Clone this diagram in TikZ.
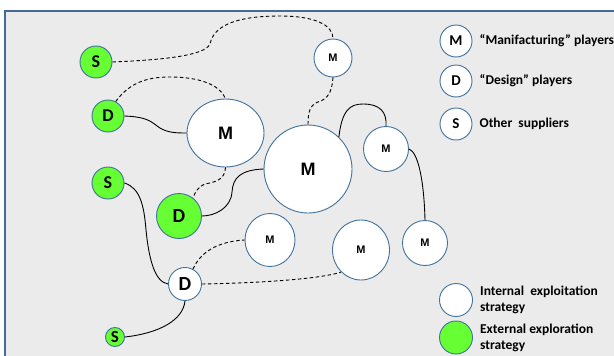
\documentclass[tikz,border=0pt]{standalone}
\usepackage{fontspec}
\setmainfont{Carlito}
\newfontfamily\arialfont{Liberation Sans}
\usepackage{tikz}
\definecolor{nodeblue}{RGB}{65,113,156}
\definecolor{frameblue}{RGB}{70,106,152}
\definecolor{extgreen}{RGB}{102,255,51}
\definecolor{bggray}{RGB}{235,235,235}
\usetikzlibrary{shapes, positioning, calc}

\begin{document}
\begin{tikzpicture}[
    x=1pt, y=-1pt,
    player/.style={circle, draw=nodeblue, line width=0.9pt, fill=white, inner sep=0pt},
    explore/.style={player, fill=extgreen},
    bigm/.style={font=\arialfont\bfseries\fontsize{18}{20}\selectfont},
    smallm/.style={font=\arialfont\bfseries\fontsize{11}{13}\selectfont},
    letter/.style={font=\bfseries\fontsize{18}{20}\selectfont},
    legletter/.style={font=\bfseries\fontsize{15}{17}\selectfont},
    legtext/.style={font=\bfseries\fontsize{13.5}{16}\selectfont, align=left, inner sep=0pt},
    link/.style={black, line width=0.9pt},
    dlink/.style={link, dash pattern=on 3.5pt off 2.5pt}
]
    \clip (0,0) rectangle (614,356);
    \fill[bggray] (5,11) rectangle (640,380);
    \draw[frameblue, line width=2.5pt] (640,11) -- (5,11) -- (5,380);

    \node[explore, minimum size=32pt, letter] (s1) at (96,62) {S};
    \node[explore, minimum size=32pt, letter] (d1) at (108,116) {D};
    \node[player, ellipse, minimum width=77pt, minimum height=68pt, bigm] (m1) at (225.5,133) {M};
    \node[player, minimum size=88pt, bigm] (bm) at (308,169) {M};
    \node[player, minimum size=38pt, smallm] (tm) at (333,58) {M};
    \node[player, minimum size=45pt, smallm] (rm) at (386,149) {M};
    \node[explore, minimum size=32pt, letter] (s2) at (108,183) {S};
    \node[explore, minimum size=45pt, letter, font=\bfseries\fontsize{20}{22}\selectfont] (d2) at (179,216) {D};
    \node[player, ellipse, minimum width=50pt, minimum height=53pt, smallm] (lm) at (270,240) {M};
    \node[player, ellipse, minimum width=57pt, minimum height=60pt, smallm] (lrm) at (361,250) {M};
    \node[player, minimum size=45pt, smallm] (fm) at (425,243) {M};
    \node[player, minimum size=33pt, letter, font=\bfseries\fontsize{20}{22}\selectfont] (dw) at (185,284) {D};
    \node[explore, minimum size=19pt, letter, font=\bfseries\fontsize{17}{19}\selectfont] (ss) at (115,337) {S};

    \draw[dlink] (s1.east) .. controls (160,60) and (205,56) .. (210,44)
        .. controls (214,24) and (240,16) .. (280,16)
        .. controls (315,16) and (333,25) .. (tm.north);
    \draw[dlink] (d1.62) .. controls (130,82) and (148,77) .. (170,77)
        .. controls (200,77) and (220,85) .. (m1.north);
    \draw[link] (d1.east) .. controls (150,117) and (152,123) .. (160,128)
        .. controls (168,133) and (178,133) .. (m1.west);
    \draw[dlink] (m1.south) .. controls (225,180) and (215,182) .. (205,184)
        .. controls (198,187) and (195,192) .. (d2.52);
    \draw[link] (bm.west) .. controls (240,170) and (233,178) .. (232,192)
        .. controls (231,208) and (215,216) .. (d2.east);
    \draw[dlink] (tm.south) .. controls (332,92) and (328,99) .. (318,102)
        .. controls (310,105) and (308,112) .. (bm.north);
    \draw[link] (bm.46) .. controls (342,110) and (350,104) .. (363,104)
        .. controls (380,104) and (387,112) .. (rm.north);
    \draw[link] (rm.east) .. controls (418,152) and (424,180) .. (fm.north);
    \draw[link] (s2.east) .. controls (140,188) and (144,205) .. (146,230)
        .. controls (149,260) and (155,282) .. (dw.west);
    \draw[dlink] (dw.62) .. controls (198,258) and (210,242) .. (lm.west);
    \draw[dlink] (dw.east) .. controls (260,283) and (320,279) .. (lrm.228);
    \draw[link] (dw.south) .. controls (183,320) and (160,333) .. (ss.east);

    \node[player, minimum size=32pt, legletter] (legm) at (456,41) {M};
    \node[legtext, right=7pt of legm] {“Manifacturing” players};
    \node[player, minimum size=32pt, legletter] (legd) at (456,81) {D};
    \node[legtext, right=7pt of legd] {“Design” players};
    \node[player, minimum size=32pt, legletter] (legs) at (456,124) {S};
    \node[legtext, right=7pt of legs] {Other\ \ suppliers};
    \node[player, minimum size=33pt] (legint) at (456,300) {};
    \node[legtext, right=7pt of legint] {Internal\ \ exploitation\\strategy};
    \node[explore, minimum size=33pt] (legext) at (456,337.5) {};
    \node[legtext, right=7pt of legext] {External exploration\\strategy};
\end{tikzpicture}
\end{document}
